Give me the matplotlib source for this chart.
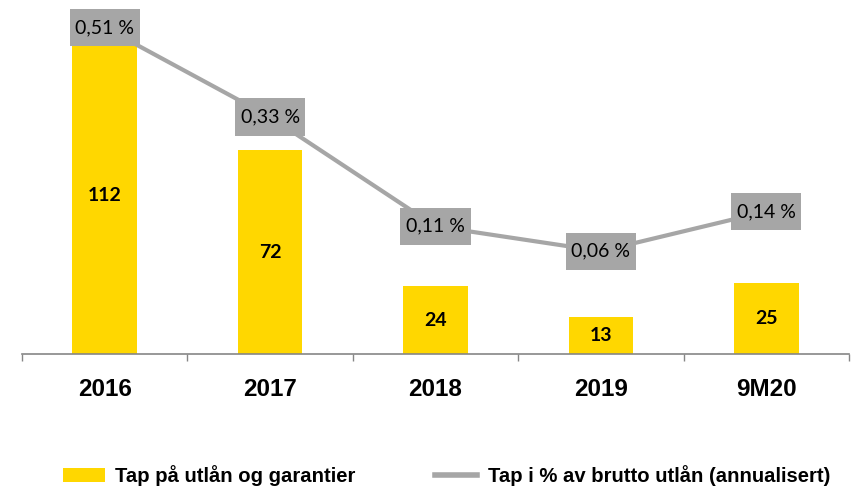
import matplotlib
matplotlib.use('Agg')
import matplotlib.pyplot as plt
from matplotlib.patches import Patch
from matplotlib.lines import Line2D
from matplotlib.path import Path
import numpy as np

# data
categories = ['2016', '2017', '2018', '2019', '9M20']
losses = [112, 72, 24, 13, 25]                 # Tap på utlån og garantier
loss_pct = [0.51, 0.33, 0.11, 0.06, 0.14]      # Tap i % av brutto utlån
bar_label = 'Tap på utlån og garantier'
line_label = 'Tap i % av brutto utlån (annualisert)'

YELLOW = '#FFD700'
GREY = '#A6A6A6'
AXIS = '#868686'

plt.rcParams['font.family'] = ['Liberation Sans', 'DejaVu Sans']


def label_box(x0, y0, width, height, mutation_size):
    # square box with more padding top/bottom than left/right
    px = 0.29 * mutation_size
    py = 0.52 * mutation_size
    x0, x1 = x0 - px, x0 + width + px
    y0, y1 = y0 - py, y0 + height + py
    return Path([(x0, y0), (x1, y0), (x1, y1), (x0, y1), (x0, y0)], closed=True)


fig = plt.figure(figsize=(8.51, 4.88), dpi=100)
ax = fig.add_axes([22 / 851, 1 - 354 / 488, 827 / 851, 349 / 488])
ax2 = ax.twinx()

x = np.arange(len(categories))
bars = ax.bar(x, losses, width=0.39, color=YELLOW, zorder=2)
for b, v in zip(bars, losses):
    ax.text(b.get_x() + b.get_width() / 2, v / 2, str(v),
            ha='center', va='center', fontsize=14, fontweight='bold',
            family=['Lato', 'DejaVu Sans'], color='black')

ax.set_xlim(-0.5, len(categories) - 0.5)
ax.set_ylim(0, 123.2)
ax2.set_ylim(-0.1469, 0.5553)

ax2.plot(x, loss_pct, color=GREY, linewidth=3, zorder=3, solid_capstyle='butt')
for xi, p in zip(x, loss_pct):
    ax2.text(xi, p, f"{p:.2f} %".replace('.', ','),
             ha='center', va='center', fontsize=14,
             family=['Lato', 'DejaVu Sans'], color='black', zorder=4,
             bbox=dict(boxstyle=label_box, facecolor=GREY, edgecolor='none'))

# axis styling: only the bottom line, ticks at category borders
for a in (ax, ax2):
    for side in ('top', 'left', 'right'):
        a.spines[side].set_visible(False)
    a.set_yticks([])
ax2.spines['bottom'].set_visible(False)
ax.spines['bottom'].set_color(AXIS)
ax.spines['bottom'].set_linewidth(1.2)

ax.set_xticks(np.arange(-0.5, len(categories), 1.0))
ax.set_xticklabels([])
ax.tick_params(axis='x', which='major', direction='out', length=5,
               width=1, color=AXIS)
ax.set_xticks(x, minor=True)
ax.set_xticklabels(categories, minor=True, fontsize=17.5, fontweight='bold')
ax.tick_params(axis='x', which='minor', length=0, pad=17)

handles = [Patch(facecolor=YELLOW, edgecolor='none', label=bar_label),
           Line2D([0], [0], color=GREY, linewidth=4, label=line_label)]
fig.legend(handles=handles, loc='center', bbox_to_anchor=(0.5245, 0.025),
           ncol=2, frameon=False, prop={'weight': 'bold', 'size': 14.6},
           handlelength=2.1, handleheight=0.7, handletextpad=0.5,
           columnspacing=3.9)

fig.savefig('out.png', dpi=100, facecolor='white')
